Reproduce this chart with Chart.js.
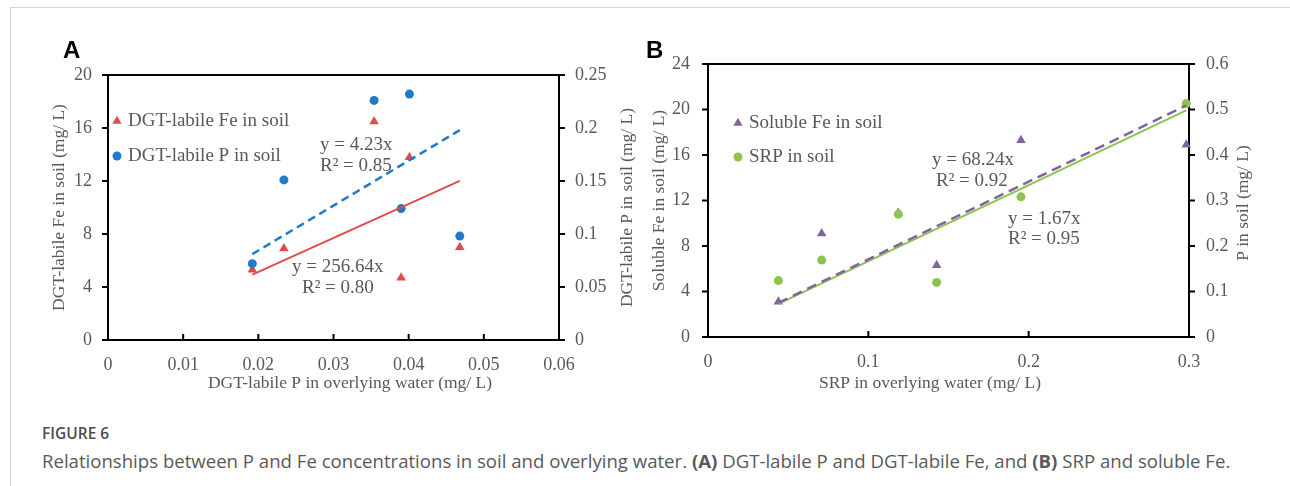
<!DOCTYPE html>
<html><head><meta charset="utf-8">
<script src="https://cdn.jsdelivr.net/npm/chart.js@4/dist/chart.umd.min.js"></script>
<style>
html,body{margin:0;padding:0;background:#fff;width:1290px;height:486px;overflow:hidden;position:relative;}
#frame{position:absolute;left:10px;top:7px;width:1400px;height:600px;border-left:1px solid #d2d2d2;border-top:1px solid #d2d2d2;}
.panel{position:absolute;top:0;width:645px;height:400px;}
#boxA{left:0}#boxB{left:645px}
.lab{position:absolute;font-family:"Liberation Sans",Arial,sans-serif;font-weight:bold;font-size:24px;line-height:24px;color:#000;}
#cap1{position:absolute;left:42px;top:423px;font-family:"Open Sans",sans-serif;font-weight:600;font-size:15.5px;line-height:20px;color:#4d4d4d;}
#cap2{position:absolute;left:42px;top:450px;font-family:"Open Sans",sans-serif;font-size:18.6px;line-height:22px;color:#595959;white-space:nowrap;}
</style></head>
<body>
<div id="frame"></div>
<div class="panel" id="boxA"><canvas id="cA" width="645" height="400"></canvas></div>
<div class="panel" id="boxB"><canvas id="cB" width="645" height="400"></canvas></div>
<div class="lab" style="left:63px;top:38px">A</div>
<div class="lab" style="left:646px;top:38px">B</div>
<div id="cap1">FIGURE 6</div>
<div id="cap2">Relationships between P and Fe concentrations in soil and overlying water. <b>(A)</b> DGT-labile P and DGT-labile Fe, and <b>(B)</b> SRP and soluble Fe.</div>
<script>
// ---------- data: panel A ----------
const waterP_A = [0.0192, 0.0234, 0.0354, 0.0390, 0.0401, 0.0468];
const soilFe_A = [5.3, 6.9, 16.5, 4.7, 13.8, 7.0];
const soilP_A  = [0.072, 0.151, 0.226, 0.124, 0.232, 0.098];
const fitA_x   = [0.0192, 0.0468];
const fitFeA_y = [4.94, 12.01];
const fitPA_y  = [0.081, 0.198];
const xTicksA  = [0, 0.01, 0.02, 0.03, 0.04, 0.05, 0.06];
const yTicksA  = [0, 4, 8, 12, 16, 20];
const y2TicksA = [0, 0.05, 0.1, 0.15, 0.2, 0.25];
// ---------- data: panel B ----------
const srpWater_B = [0.0439, 0.0709, 0.1187, 0.1426, 0.1952, 0.2983];
const solFe_B    = [3.1, 9.1, 10.9, 6.3, 17.3, 16.9];
const srpSoil_B  = [0.124, 0.169, 0.270, 0.120, 0.308, 0.513];
const fitB_x     = [0.0439, 0.2983];
const fitFeB_y   = [3.0, 20.36];
const fitSrpB_y  = [0.073, 0.498];
const xTicksB  = [0, 0.1, 0.2, 0.3];
const yTicksB  = [0, 4, 8, 12, 16, 20, 24];
const y2TicksB = [0, 0.1, 0.2, 0.3, 0.4, 0.5, 0.6];

const RED='#E04B4B', BLUE='#1F7BC6', PURPLE='#8064A2', GREEN='#8DC44E', GRAY='#595959';
const SERIF='"Liberation Serif","Times New Roman",serif';

const pts = (xs, ys) => xs.map((x,i)=>({x, y: ys[i]}));
const fmt = v => String(Number(v.toFixed(3)));
const setTicks = arr => s => { s.ticks = arr.map(v=>({value:v})); };

const decor = {
  id:'decor',
  beforeDatasetsDraw(chart, args, o){
    const {ctx, chartArea:a} = chart;
    ctx.save();
    ctx.strokeStyle='#000'; ctx.lineWidth=2;
    ctx.strokeRect(a.left, a.top, a.right-a.left, a.bottom-a.top);
    const tl=6;
    ctx.beginPath();
    const sx=chart.scales.x, sy=chart.scales.y, sy2=chart.scales.y2;
    sx.ticks.forEach(t=>{const p=sx.getPixelForValue(t.value); ctx.moveTo(p,a.bottom); ctx.lineTo(p,a.bottom-tl);});
    sy.ticks.forEach(t=>{const p=sy.getPixelForValue(t.value); ctx.moveTo(a.left,p); ctx.lineTo(a.left-tl,p);});
    sy2.ticks.forEach(t=>{const p=sy2.getPixelForValue(t.value); ctx.moveTo(a.right,p); ctx.lineTo(a.right+tl,p);});
    ctx.stroke();
    ctx.restore();
  },
  afterDraw(chart, args, o){
    const {ctx} = chart;
    ctx.save();
    ctx.fillStyle=GRAY;
    ctx.textBaseline='middle';
    ctx.font = o.titleFont;
    ctx.textAlign='center';
    o.titles.forEach(t=>{
      ctx.save(); ctx.translate(t.x,t.y); ctx.rotate(t.rot||0); ctx.fillText(t.text,0,0); ctx.restore();
    });
    ctx.font = o.textFont;
    ctx.textAlign='left';
    o.legend.forEach(l=>{
      ctx.fillStyle=l.color; ctx.strokeStyle=l.color;
      Chart.helpers.drawPoint(ctx,{pointStyle:l.style, radius:l.r, rotation:0, borderWidth:0}, l.mx, l.y);
      ctx.fillStyle=GRAY;
      ctx.fillText(l.text, l.tx, l.y);
    });
    o.notes.forEach(n=>{ ctx.fillText(n.text, n.x, n.y); });
    ctx.restore();
  }
};

function scatterSet(label, data, color, style, r){
  return {type:'scatter', label, data, backgroundColor:color, borderColor:color,
    pointStyle:style, pointRadius:r, pointHoverRadius:r, pointBorderWidth:0, showLine:false, clip:false};
}
function lineSet(label, data, color, dash, width, axis){
  return {type:'scatter', label, data, borderColor:color, backgroundColor:color, showLine:true,
    pointRadius:0, borderWidth:width, borderDash:dash, yAxisID:axis, clip:false, tension:0};
}
function axis(pos, min, max, ticks, pad, extra){
  return Object.assign({
    type:'linear', position:pos, min, max,
    grid:{display:false, drawTicks:false}, border:{display:false},
    ticks:{color:GRAY, font:{family:SERIF, size:18}, padding:pad, autoSkip:false, maxRotation:0, callback:v=>fmt(v)},
    afterBuildTicks:setTicks(ticks)
  }, extra||{});
}

function makeChart(id, cfg){
  return new Chart(document.getElementById(id), {
    data:{datasets:cfg.datasets},
    options:{
      responsive:false, animation:false, devicePixelRatio:1,
      layout:{padding:{top:cfg.top, left:0, right:0, bottom:0}},
      plugins:{legend:{display:false}, tooltip:{enabled:false}, decor:cfg.decor},
      scales:{
        x: axis('bottom', cfg.xmin, cfg.xmax, cfg.xt, cfg.xpad, {afterFit:s=>{s.height=cfg.xh;}}),
        y: axis('left', cfg.ymin, cfg.ymax, cfg.yt, cfg.ypad, {afterFit:s=>{s.width=cfg.yw;}}),
        y2: axis('right', cfg.y2min, cfg.y2max, cfg.y2t, cfg.y2pad, {afterFit:s=>{s.width=cfg.y2w;}})
      }
    },
    plugins:[decor]
  });
}

const TITLE_FONT = '17.5px '+SERIF, TEXT_FONT = '19px '+SERIF;

makeChart('cA', {
  top:75, xh:60, yw:108, y2w:86, xpad:14, ypad:16, y2pad:16,
  xmin:0, xmax:0.06, xt:xTicksA, ymin:0, ymax:20, yt:yTicksA, y2min:0, y2max:0.25, y2t:y2TicksA,
  datasets:[
    lineSet('P fit', pts(fitA_x, fitPA_y), BLUE, [8,5], 2.5, 'y2'),
    lineSet('Fe fit', pts(fitA_x, fitFeA_y), RED, [], 2, 'y'),
    Object.assign(scatterSet('DGT-labile P in soil', pts(waterP_A, soilP_A), BLUE, 'circle', 4.5), {yAxisID:'y2'}),
    Object.assign(scatterSet('DGT-labile Fe in soil', pts(waterP_A, soilFe_A), RED, 'triangle', 5.5), {yAxisID:'y'})
  ],
  decor:{
    titleFont:TITLE_FONT, textFont:TEXT_FONT,
    titles:[
      {text:'DGT-labile Fe in soil (mg/ L)', x:59, y:207.5, rot:-Math.PI/2},
      {text:'DGT-labile P in soil (mg/ L)', x:627, y:207.5, rot:-Math.PI/2},
      {text:'DGT-labile P in overlying water (mg/ L)', x:350, y:383}
    ],
    legend:[
      {style:'triangle', color:RED, r:5.3, mx:117, tx:128, y:121, text:'DGT-labile Fe in soil'},
      {style:'circle', color:BLUE, r:4.5, mx:117, tx:128, y:156, text:'DGT-labile P in soil'}
    ],
    notes:[
      {text:'y = 4.23x', x:320, y:145},
      {text:'R² = 0.85', x:320, y:166},
      {text:'y = 256.64x', x:292, y:267},
      {text:'R² = 0.80', x:302, y:288}
    ]
  }
});

makeChart('cB', {
  top:64, xh:63, yw:63, y2w:101, xpad:14, ypad:18, y2pad:17,
  xmin:0, xmax:0.3, xt:xTicksB, ymin:0, ymax:24, yt:yTicksB, y2min:0, y2max:0.6, y2t:y2TicksB,
  datasets:[
    lineSet('Fe fit', pts(fitB_x, fitFeB_y), PURPLE, [10,6], 2.5, 'y'),
    lineSet('SRP fit', pts(fitB_x, fitSrpB_y), GREEN, [], 2, 'y2'),
    Object.assign(scatterSet('SRP in soil', pts(srpWater_B, srpSoil_B), GREEN, 'circle', 4.5), {yAxisID:'y2'}),
    Object.assign(scatterSet('Soluble Fe in soil', pts(srpWater_B, solFe_B), PURPLE, 'triangle', 5.5), {yAxisID:'y'})
  ],
  decor:{
    titleFont:TITLE_FONT, textFont:TEXT_FONT,
    titles:[
      {text:'Soluble Fe in soil (mg/ L)', x:14, y:200.5, rot:-Math.PI/2},
      {text:'P in soil (mg/ L)', x:598, y:203, rot:-Math.PI/2},
      {text:'SRP in overlying water (mg/ L)', x:285, y:383}
    ],
    legend:[
      {style:'triangle', color:PURPLE, r:5.3, mx:93, tx:104, y:123, text:'Soluble Fe in soil'},
      {style:'circle', color:GREEN, r:4.5, mx:93, tx:104, y:157, text:'SRP in soil'}
    ],
    notes:[
      {text:'y = 68.24x', x:287, y:160},
      {text:'R² = 0.92', x:291, y:181},
      {text:'y = 1.67x', x:363, y:219},
      {text:'R² = 0.95', x:363, y:239}
    ]
  }
});
</script>
</body></html>
